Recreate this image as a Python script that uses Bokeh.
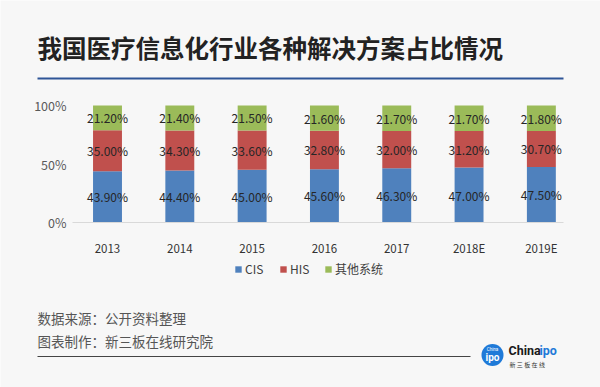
from bokeh.plotting import figure
from bokeh.models import (ColumnDataSource, Range1d, FixedTicker, Legend, LegendItem,
                          LinearAxis)
from bokeh.core.properties import value
from bokeh.embed import file_html
from bokeh.resources import INLINE

# ---- data ----
title = "我国医疗信息化行业各种解决方案占比情况"
years = ["2013", "2014", "2015", "2016", "2017", "2018E", "2019E"]
cis = [43.9, 44.4, 45.0, 45.6, 46.3, 47.0, 47.5]
his = [35.0, 34.3, 33.6, 32.8, 32.0, 31.2, 30.7]
other = [21.2, 21.4, 21.5, 21.6, 21.7, 21.7, 21.8]
series_names = ["CIS", "HIS", "其他系统"]
y_ticks = [0, 50, 100]
y_tick_labels = ["0%", "50%", "100%"]
source_note = "数据来源：公开资料整理"
maker_note = "图表制作：新三板在线研究院"

colors = ["#4f81bd", "#c0504d", "#9bbb59"]
BG = "#f7f7f7"
FONT = "Noto Sans CJK SC"
W, H = 600, 387

# chart area on the canvas (px): x 72..563, y 105 (100%) .. 222 (0%)
CX0, CX1 = -0.484, 6.306
PX0, PX1 = 72, 563
PY100, PY0 = 105, 222
kx = (PX1 - PX0) / (CX1 - CX0)
ky = (PY0 - PY100) / 100.0

p = figure(width=W, height=H, output_backend="svg", toolbar_location=None,
           x_range=Range1d(0, W), y_range=Range1d(H, 0),
           x_axis_type=None, y_axis_type=None, min_border=0)
p.extra_x_ranges = {"cx": Range1d(CX0 - PX0 / kx, CX1 + (W - PX1) / kx)}
p.extra_y_ranges = {"cy": Range1d(-(H - PY0) / ky, PY0 / ky)}
p.background_fill_color = BG
p.border_fill_color = BG
p.outline_line_color = None
p.grid.visible = False

xs = list(range(len(years)))
src = ColumnDataSource(dict(x=xs, CIS=cis, HIS=his, OTH=other))
rs = p.vbar_stack(["CIS", "HIS", "OTH"], x="x", width=0.40, color=colors,
                  line_color=None, source=src, x_range_name="cx", y_range_name="cy")

lab_x, lab_y, lab_t = [], [], []
for i in xs:
    base = 0.0
    for vals in (cis, his, other):
        v = vals[i]
        lab_x.append(i)
        lab_y.append(base + v / 2.0)
        lab_t.append(f"{v:.2f}%")
        base += v
p.text(x=lab_x, y=lab_y, text=lab_t, text_font=value(FONT),
       text_font_size=value("12px"), text_color="#262626",
       text_align="center", text_baseline="middle",
       x_range_name="cx", y_range_name="cy")

yax = LinearAxis(x_range_name="cx", y_range_name="cy", fixed_location=CX0,
                 bounds=(0, 100))
yax.ticker = FixedTicker(ticks=y_ticks)
yax.major_label_overrides = {t: l for t, l in zip(y_ticks, y_tick_labels)}
yax.axis_line_color = None
yax.major_tick_line_color = None
yax.minor_tick_line_color = None
yax.major_label_standoff = 0
yax.major_label_text_font = FONT
yax.major_label_text_font_size = "12.5px"
yax.major_label_text_color = "#595959"
p.add_layout(yax, "left")

xax = LinearAxis(x_range_name="cx", y_range_name="cy", fixed_location=0,
                 bounds=(CX0, CX1))
xax.ticker = FixedTicker(ticks=xs)
xax.major_label_overrides = {i: y for i, y in zip(xs, years)}
xax.axis_line_color = "#d9d9d9"
xax.major_tick_line_color = None
xax.minor_tick_line_color = None
xax.major_label_standoff = 11
xax.major_label_text_font = FONT
xax.major_label_text_font_size = "11.5px"
xax.major_label_text_color = "#333333"
p.add_layout(xax, "below")

legend = Legend(items=[LegendItem(label=n, renderers=[r]) for n, r in zip(series_names, rs)],
                orientation="horizontal", location=(234, H - 277))
legend.glyph_width = 8
legend.glyph_height = 8
legend.label_standoff = 3
legend.spacing = 14
legend.padding = 0
legend.margin = 0
legend.border_line_color = None
legend.background_fill_alpha = 0
legend.label_text_font = FONT
legend.label_text_font_size = "12px"
legend.label_text_color = "#404040"
p.add_layout(legend, "center")

def txt(x, y, text, size, color, font=FONT, style="normal", align="left"):
    p.text(x=[x], y=[y], text=[text], text_font=value(font), text_font_size=value(size),
           text_color=color, text_font_style=style, text_align=align,
           text_baseline="middle")

# header
txt(37, 47, title, "24.5px", "#222222", style="bold")
p.segment(x0=[37], y0=[78], x1=[563], y1=[78], line_color="#2f5597", line_width=2)

# footer
txt(37, 317, source_note, "13.5px", "#555555")
txt(37, 340, maker_note, "13.5px", "#555555")
p.segment(x0=[37], y0=[356], x1=[470], y1=[356], line_color="#444444", line_width=1.2)

# logo
p.scatter(x=[492], y=[354.5], size=22, marker="circle", fill_color="#1f7ad8", line_color=None)
txt(492, 349, "China", "4.5px", "white", font="Roboto", align="center")
txt(492, 357, "ipo", "10px", "white", font="Roboto", style="bold", align="center")
txt(508, 350, "China", "12.5px", "#1a1a1a", font="Roboto", style="bold")
txt(539, 350, "ipo", "12.5px", "#1f7ad8", font="Roboto", style="bold")
txt(509, 364, "新 三 板 在 线", "6px", "#333333")

open("out.html", "w").write(file_html(p, INLINE))
